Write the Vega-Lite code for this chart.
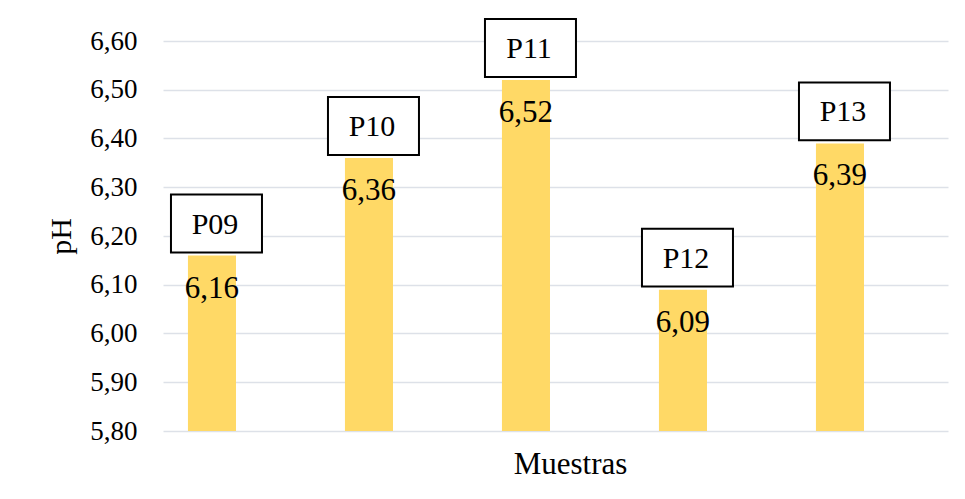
{
  "$schema": "https://vega.github.io/schema/vega-lite/v6.json",
  "width": 785,
  "height": 390,
  "autosize": "none",
  "padding": {"left": 163, "top": 41, "right": 17, "bottom": 68},
  "background": "white",
  "config": {
    "view": {"stroke": null},
    "font": "Liberation Serif",
    "locale": {"number": {"decimal": ",", "thousands": ".", "grouping": [3], "currency": ["", " €"]}}
  },
  "data": {"values": [
    {"muestra": "P09", "ph": 6.16},
    {"muestra": "P10", "ph": 6.36},
    {"muestra": "P11", "ph": 6.52},
    {"muestra": "P12", "ph": 6.09},
    {"muestra": "P13", "ph": 6.39}
  ]},
  "encoding": {
    "x": {
      "field": "muestra", "type": "nominal", "sort": null,
      "scale": {"paddingInner": 0.694, "paddingOuter": 0.347, "align": 0.229},
      "axis": {
        "title": "Muestras", "labels": false, "ticks": false, "domain": false,
        "titleFont": "Liberation Serif", "titleFontSize": 31, "titleFontWeight": "normal", "titleColor": "black",
        "titleX": 407, "titleY": 42, "titleAlign": "center", "titleBaseline": "alphabetic"
      }
    },
    "y": {
      "field": "ph", "type": "quantitative",
      "scale": {"domain": [5.8, 6.6], "zero": false, "nice": false},
      "axis": {
        "title": "pH", "values": [5.8, 5.9, 6.0, 6.1, 6.2, 6.3, 6.4, 6.5, 6.6], "format": ".2f",
        "ticks": false, "domain": false, "labelPadding": 26,
        "labelFont": "Liberation Serif", "labelFontSize": 27, "labelColor": "black",
        "gridColor": "#dde1e8", "gridWidth": 1.3,
        "titleFont": "Liberation Serif", "titleFontSize": 30, "titleFontWeight": "normal", "titleColor": "black",
        "titleX": -93, "titleY": 195, "titleAngle": -90, "titleAlign": "center", "titleBaseline": "alphabetic"
      }
    }
  },
  "layer": [
    {
      "mark": {"type": "bar", "color": "#FFD966"},
      "encoding": {"y2": {"datum": 5.8}}
    },
    {
      "mark": {"type": "text", "font": "Liberation Serif", "fontSize": 31, "color": "black", "baseline": "alphabetic", "dy": 42},
      "encoding": {"text": {"field": "ph", "type": "quantitative", "format": ".2f"}}
    },
    {
      "mark": {"type": "point", "shape": "M-1,-0.635H1V0.635H-1Z", "size": 8281, "filled": true, "fill": "white", "stroke": "black", "strokeWidth": 2, "opacity": 1, "yOffset": -32, "xOffset": 4.5},
      "encoding": {}
    },
    {
      "mark": {"type": "text", "font": "Liberation Serif", "fontSize": 30, "color": "black", "baseline": "alphabetic", "dy": -22, "dx": 3},
      "encoding": {"text": {"field": "muestra"}}
    }
  ]
}
